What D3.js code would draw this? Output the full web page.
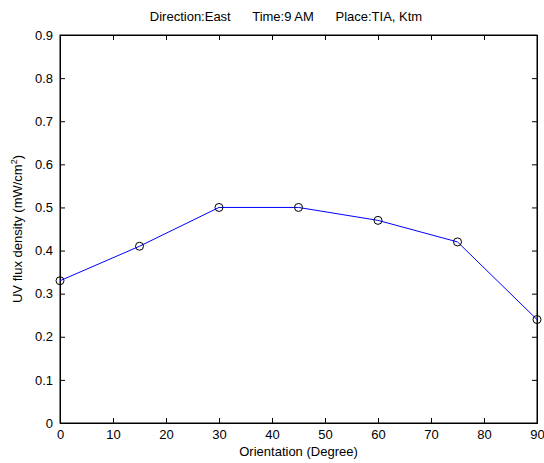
<!DOCTYPE html>
<html>
<head>
<meta charset="utf-8">
<script src="https://cdn.jsdelivr.net/npm/d3@7"></script>
<style>
  body { margin: 0; background: #fff; }
  text { font-family: "Liberation Sans", Arial, sans-serif; fill: #000; }
</style>
</head>
<body>
<div id="chart"></div>
<script>
const width = 544;
const height = 463;

// data
const orientation = [0, 15, 30, 45, 60, 75, 90];
const uvFlux = [0.33, 0.41, 0.50, 0.50, 0.47, 0.42, 0.24];
const xTicks = [0, 10, 20, 30, 40, 50, 60, 70, 80, 90];
const yTicks = [0, 0.1, 0.2, 0.3, 0.4, 0.5, 0.6, 0.7, 0.8, 0.9];

const margin = { left: 60, right: 7, top: 35, bottom: 40 };

const svg = d3.select("#chart").append("svg").attr("width", width).attr("height", height);

const x = d3.scaleLinear().domain([0, 90]).range([margin.left, width - margin.right]);
const y = d3.scaleLinear().domain([0, 0.9]).range([height - margin.bottom, margin.top]);

// frame
svg
  .append("rect")
  .attr("x", x(0))
  .attr("y", y(0.9))
  .attr("width", x(90) - x(0))
  .attr("height", y(0) - y(0.9))
  .attr("fill", "#fff")
  .attr("stroke", "#000")
  .attr("stroke-width", 1);

const tickLen = 5;

// bottom axis, ticks pointing in
svg
  .append("g")
  .attr("transform", `translate(0,${y(0)})`)
  .call(d3.axisBottom(x).tickValues(xTicks).tickSize(-tickLen).tickPadding(7).tickFormat(d3.format("d")));
// top ticks
svg
  .append("g")
  .attr("transform", `translate(0,${y(0.9)})`)
  .call(d3.axisTop(x).tickValues(xTicks).tickSize(-tickLen).tickFormat(""));

svg
  .append("g")
  .attr("transform", `translate(${x(0)},0)`)
  .call(d3.axisLeft(y).tickValues(yTicks).tickSize(-tickLen).tickPadding(7).tickFormat((d) => (d === 0 ? "0" : d3.format(".1f")(d))));
svg
  .append("g")
  .attr("transform", `translate(${x(90)},0)`)
  .call(d3.axisRight(y).tickValues(yTicks).tickSize(-tickLen).tickFormat(""));

svg.selectAll(".domain").attr("stroke", "#000");
svg.selectAll(".tick line").attr("stroke", "#000");
svg.selectAll(".tick text").attr("font-size", 13).attr("font-family", "Liberation Sans, Arial, sans-serif").attr("fill", "#000");

// line + markers
const line = d3
  .line()
  .x((d, i) => x(orientation[i]))
  .y((d) => y(d));

svg.append("path").datum(uvFlux).attr("d", line).attr("fill", "none").attr("stroke", "#0000ff").attr("stroke-width", 1);

svg
  .selectAll("circle.pt")
  .data(uvFlux)
  .enter()
  .append("circle")
  .attr("class", "pt")
  .attr("cx", (d, i) => x(orientation[i]))
  .attr("cy", (d) => y(d))
  .attr("r", 4)
  .attr("fill", "none")
  .attr("stroke", "#000")
  .attr("stroke-width", 1);

// title
svg
  .append("text")
  .attr("x", 286)
  .attr("y", 21)
  .attr("text-anchor", "middle")
  .attr("font-size", 13)
  .attr("xml:space", "preserve")
  .text("Direction:East      Time:9 AM      Place:TIA, Ktm");

// axis labels
svg
  .append("text")
  .attr("x", (x(0) + x(90)) / 2)
  .attr("y", 456)
  .attr("text-anchor", "middle")
  .attr("font-size", 13)
  .text("Orientation (Degree)");

const yl = svg
  .append("text")
  .attr("transform", `translate(22,${(y(0) + y(0.9)) / 2}) rotate(-90)`)
  .attr("text-anchor", "middle")
  .attr("font-size", 13);
yl.append("tspan").text("UV flux density (mW/cm");
yl.append("tspan").attr("baseline-shift", "super").attr("font-size", 9).text("2");
yl.append("tspan").text(")");
</script>
</body>
</html>
